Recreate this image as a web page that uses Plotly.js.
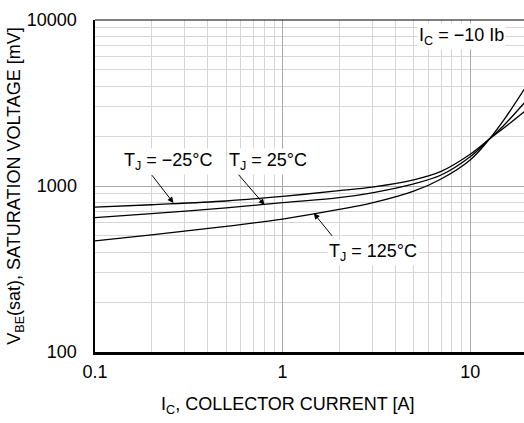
<!DOCTYPE html>
<html><head><meta charset="utf-8">
<script src="https://cdn.plot.ly/plotly-3.0.1.min.js"></script>
<style>html,body{margin:0;padding:0;background:#fff;}#c{width:524px;height:423px;}</style>
</head><body><div id="c"></div>
<script>
var current = [0.1, 0.2, 0.5, 1, 2, 3, 5, 7, 10, 12.67, 15, 19.4];
var vMinus25 = [745, 771, 812, 866, 937, 985, 1090, 1225, 1553, 1919, 2220, 2803];
var v25      = [644, 682, 738, 794, 850, 910, 1030, 1165, 1502, 1919, 2297, 3163];
var v125     = [467, 508, 571, 632, 722, 790, 930, 1102, 1434, 1919, 2464, 3823];
var xTickVals = [0.1, 1, 10];
var xTickText = ['0.1', '1', '10'];
var yTickVals = [100, 1000, 10000];
var yTickText = ['100', '1000', '10000'];
var xMinor = [0.2,0.3,0.4,0.5,0.6,0.7,0.8,0.9,2,3,4,5,6,7,8,9,20];
var yMinor = [200,300,400,500,600,700,800,900,2000,3000,4000,5000,6000,7000,8000,9000];
var xTitle = 'I<sub>C</sub>, COLLECTOR CURRENT [A]';
var yTitle = 'V<sub>BE</sub>(sat), SATURATION VOLTAGE [mV]';

var FONT = 'Liberation Sans, Arial, Helvetica, sans-serif';
var line = {color:'#000', width:1.3, shape:'spline', smoothing:1};
var traces = [
  {x:current, y:vMinus25, mode:'lines', line:line, name:'-25', hoverinfo:'skip'},
  {x:current, y:v25, mode:'lines', line:line, name:'25', hoverinfo:'skip'},
  {x:current, y:v125, mode:'lines', line:line, name:'125', hoverinfo:'skip'}
];
var lbl = {font:{family:FONT, size:18, color:'#000'}, bgcolor:'#fff', showarrow:false, xref:'x', yref:'y', borderpad:1};
function L(o){ return Object.assign({}, lbl, o); }
function A(x, y, ax, ay){
  return {x:Math.log10(x), y:Math.log10(y), xref:'x', yref:'y', ax:ax, ay:ay, text:'', showarrow:true,
          arrowhead:2, arrowsize:1.2, arrowwidth:1, arrowcolor:'#000', standoff:0, startstandoff:0};
}
var layout = {
  width:524, height:423,
  margin:{l:95, r:0, t:20, b:71},
  paper_bgcolor:'#fff', plot_bgcolor:'#fff',
  showlegend:false,
  font:{family:FONT, size:18, color:'#000'},
  xaxis:{type:'log', range:[-1, 1.287], tickvals:xTickVals, ticktext:xTickText,
    showgrid:true, gridcolor:'#a8a8a8', gridwidth:1,
    minor:{tickvals:xMinor, showgrid:true, gridcolor:'#d6d6d6', gridwidth:1, ticks:''},
    showline:true, linecolor:'#000', linewidth:2.5, mirror:false, ticks:'', zeroline:false,
    tickfont:{family:FONT, size:18}, ticklabelstandoff:2},
  yaxis:{type:'log', range:[2, 4], tickvals:yTickVals, ticktext:yTickText,
    showgrid:true, gridcolor:'#a8a8a8', gridwidth:1,
    minor:{tickvals:yMinor, showgrid:true, gridcolor:'#d6d6d6', gridwidth:1, ticks:''},
    showline:true, linecolor:'#000', linewidth:2.5, mirror:false, ticks:'', zeroline:false,
    tickfont:{family:FONT, size:18}, ticklabelstandoff:12,
    title:{text:yTitle, font:{family:FONT, size:18}, standoff:0}},
  shapes:[{type:'line', xref:'paper', yref:'paper', x0:0, x1:1, y0:1, y1:1, line:{color:'#000', width:1.2}}],
  annotations:[
    {xref:'paper', yref:'paper', x:0.449, y:-0.16, text:xTitle, showarrow:false, font:{family:FONT, size:18, color:'#000'}, xanchor:'center', yanchor:'middle'},
    L({x:Math.log10(0.248), y:Math.log10(1400), text:'T<sub>J</sub> = \u221225\u00b0C'}),
    L({x:Math.log10(0.832), y:Math.log10(1400), text:'T<sub>J</sub> = 25\u00b0C'}),
    L({x:Math.log10(3.03), y:Math.log10(395), text:'T<sub>J</sub> = 125\u00b0C'}),
    L({x:Math.log10(8.96), y:Math.log10(7900), text:'I<sub>C</sub> = \u221210 Ib'}),
    A(0.262, 790, -22.7, -29.3),
    A(0.802, 769, -27.3, -31.7),
    A(1.467, 685, 19.4, 24)
  ]
};
Plotly.newPlot('c', traces, layout, {staticPlot:true, displayModeBar:false});
</script></body></html>
